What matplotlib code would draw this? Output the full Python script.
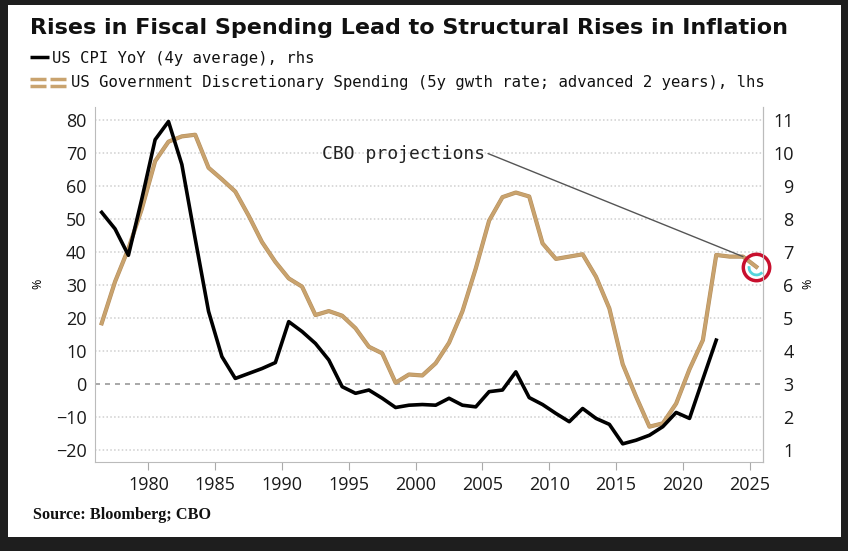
import numpy as np
import matplotlib.pyplot as plt
from matplotlib.lines import Line2D
from matplotlib.patches import Rectangle
from matplotlib.path import Path
import matplotlib.patheffects as pe

plt.rcParams['font.family'] = ['Open Sans', 'DejaVu Sans']

W, H = 848, 551

# US CPI YoY, 4y average (rhs, %)
years_cpi = np.arange(1976, 2023) + 0.5
cpi = [8.2, 7.7, 6.9, 8.6, 10.4, 10.95, 9.65, 7.4, 5.2, 3.83,
       3.17, 3.32, 3.47, 3.65, 4.89, 4.59, 4.23, 3.73, 2.92, 2.72,
       2.82, 2.57, 2.29, 2.36, 2.38, 2.36, 2.57, 2.36, 2.31, 2.77,
       2.82, 3.37, 2.59, 2.38, 2.11, 1.86, 2.26, 1.96, 1.78, 1.19,
       1.30, 1.45, 1.71, 2.14, 1.96, 3.15, 4.33]

# US govt discretionary spending, 5y growth, advanced 2y (lhs, %)
years_sp = np.arange(1976, 2026) + 0.5
spend = [18.4, 31, 41, 53, 67.5, 73.4, 75.0, 75.5, 65.5, 62,
         58.3, 51, 43, 37, 32, 29.5, 20.9, 22.1, 20.7, 16.9,
         11.3, 9.3, 0.4, 2.9, 2.6, 6.3, 12.5, 22, 35, 49.5,
         56.6, 58, 56.8, 42.6, 37.9, 38.6, 39.3, 32.5, 22.9, 6,
         -3.8, -12.9, -11.9, -5.9, 4.5, 13.3, 39.1, 38.6, 38.6, 35.5]

left_ticks = [-20, -10, 0, 10, 20, 30, 40, 50, 60, 70, 80]
right_ticks = [1, 2, 3, 4, 5, 6, 7, 8, 9, 10, 11]
x_ticks = [1980, 1985, 1990, 1995, 2000, 2005, 2010, 2015, 2020, 2025]

gold = '#C9A36E'
grey = '#BBBBBB'

fig = plt.figure(figsize=(W / 100, H / 100), dpi=100, facecolor='#1e1e1e')
fig.add_artist(Rectangle((8 / W, 1 - 537 / H), 833 / W, 532 / H,
                         transform=fig.transFigure, facecolor='white',
                         edgecolor='none', zorder=0))

ax = fig.add_axes([95 / W, 1 - 462 / H, 668 / W, 355 / H])
ax.set_xlim(1976, 2026)
ax.set_ylim(-23.6, 83.9)

# grid lines
for v in left_ticks:
    if v == 0:
        ax.axhline(v, color='#999999', ls=(0, (3, 3)), lw=1.2, zorder=1)
    else:
        ax.axhline(v, color='#CFCFCF', ls=(0, (1, 1.5)), lw=1.1, zorder=1)

ax.plot(years_sp, spend, color=gold, lw=2.2, zorder=3,
        path_effects=[pe.Stroke(linewidth=3.0, foreground='#B58F5E'), pe.Normal()])

# highlight the last projected point
ax.plot(years_sp[-1], spend[-1], marker='o', ms=19, mfc='none', mec='#C8102E',
        mew=2.5, clip_on=False, zorder=6)
ax.plot(years_sp[-1], spend[-1], marker=Path.arc(170, 320), ms=11, mfc='none',
        mec='#55D5DC', mew=2, clip_on=False, zorder=6)

ax.annotate('CBO projections', xy=(years_sp[-2], spend[-2]), xytext=(1993.0, 69.6),
            family='DejaVu Sans Mono', fontsize=13, color='#222222',
            ha='left', va='center',
            arrowprops=dict(arrowstyle='-', color='#555555', lw=1,
                            shrinkA=0, shrinkB=0, relpos=(1.0, 0.6)))

ax.set_yticks(left_ticks)
ax.set_xticks(x_ticks)
ax.tick_params(axis='y', length=0, pad=6, labelsize=13, labelcolor='#1a1a1a')
ax.tick_params(axis='x', length=6, color='#AAAAAA', pad=4, labelsize=13,
               labelcolor='#1a1a1a')
ax.spines['top'].set_visible(False)
for s in ['left', 'bottom', 'right']:
    ax.spines[s].set_color(grey)

ax2 = ax.twinx()
ax2.set_ylim(0.64, 11.39)
ax2.plot(years_cpi, cpi, color='black', lw=2.6, zorder=4)
ax2.set_yticks(right_ticks)
ax2.tick_params(axis='y', length=0, pad=22, labelsize=13, labelcolor='#1a1a1a')
for lab in ax2.get_yticklabels():
    lab.set_horizontalalignment('right')
for s in ['top', 'left', 'bottom']:
    ax2.spines[s].set_visible(False)
ax2.spines['right'].set_color(grey)

# % unit markers
fig.text(38 / W, 1 - 284 / H, '%', rotation=90, fontsize=9, ha='center', va='center')
fig.text(808 / W, 1 - 284 / H, '%', rotation=90, fontsize=9, ha='center', va='center')

# title, fitted to the reference width
title = fig.text(30 / W, 1 - 34 / H,
                 'Rises in Fiscal Spending Lead to Structural Rises in Inflation',
                 family='DejaVu Sans', fontweight='bold', fontsize=16,
                 va='baseline', color='#111111')
fig.canvas.draw()
bw = title.get_window_extent().width
title.set_fontsize(16 * 759 / bw)

# legend
fig.add_artist(Line2D([30 / W, 49 / W], [1 - 57 / H] * 2, color='black', lw=2.5,
                      transform=fig.transFigure, solid_capstyle='butt'))
fig.text(52 / W, 1 - 58 / H, 'US CPI YoY (4y average), rhs',
         family='DejaVu Sans Mono', fontsize=11.2, va='center', color='#111111')
for yy in (79, 86):
    for x0, x1 in ((30, 46), (50, 66)):
        fig.add_artist(Line2D([x0 / W, x1 / W], [1 - yy / H] * 2, color=gold, lw=2.5,
                              transform=fig.transFigure, solid_capstyle='butt'))
fig.text(71 / W, 1 - 83 / H,
         'US Government Discretionary Spending (5y gwth rate; advanced 2 years), lhs',
         family='DejaVu Sans Mono', fontsize=11.25, va='center', color='#111111')

fig.text(33 / W, 1 - 515 / H, 'Source: Bloomberg; CBO', family='Liberation Serif',
         fontweight='bold', fontsize=11.7, va='center', color='#111111')

fig.savefig('out.png', dpi=100, facecolor=fig.get_facecolor())
